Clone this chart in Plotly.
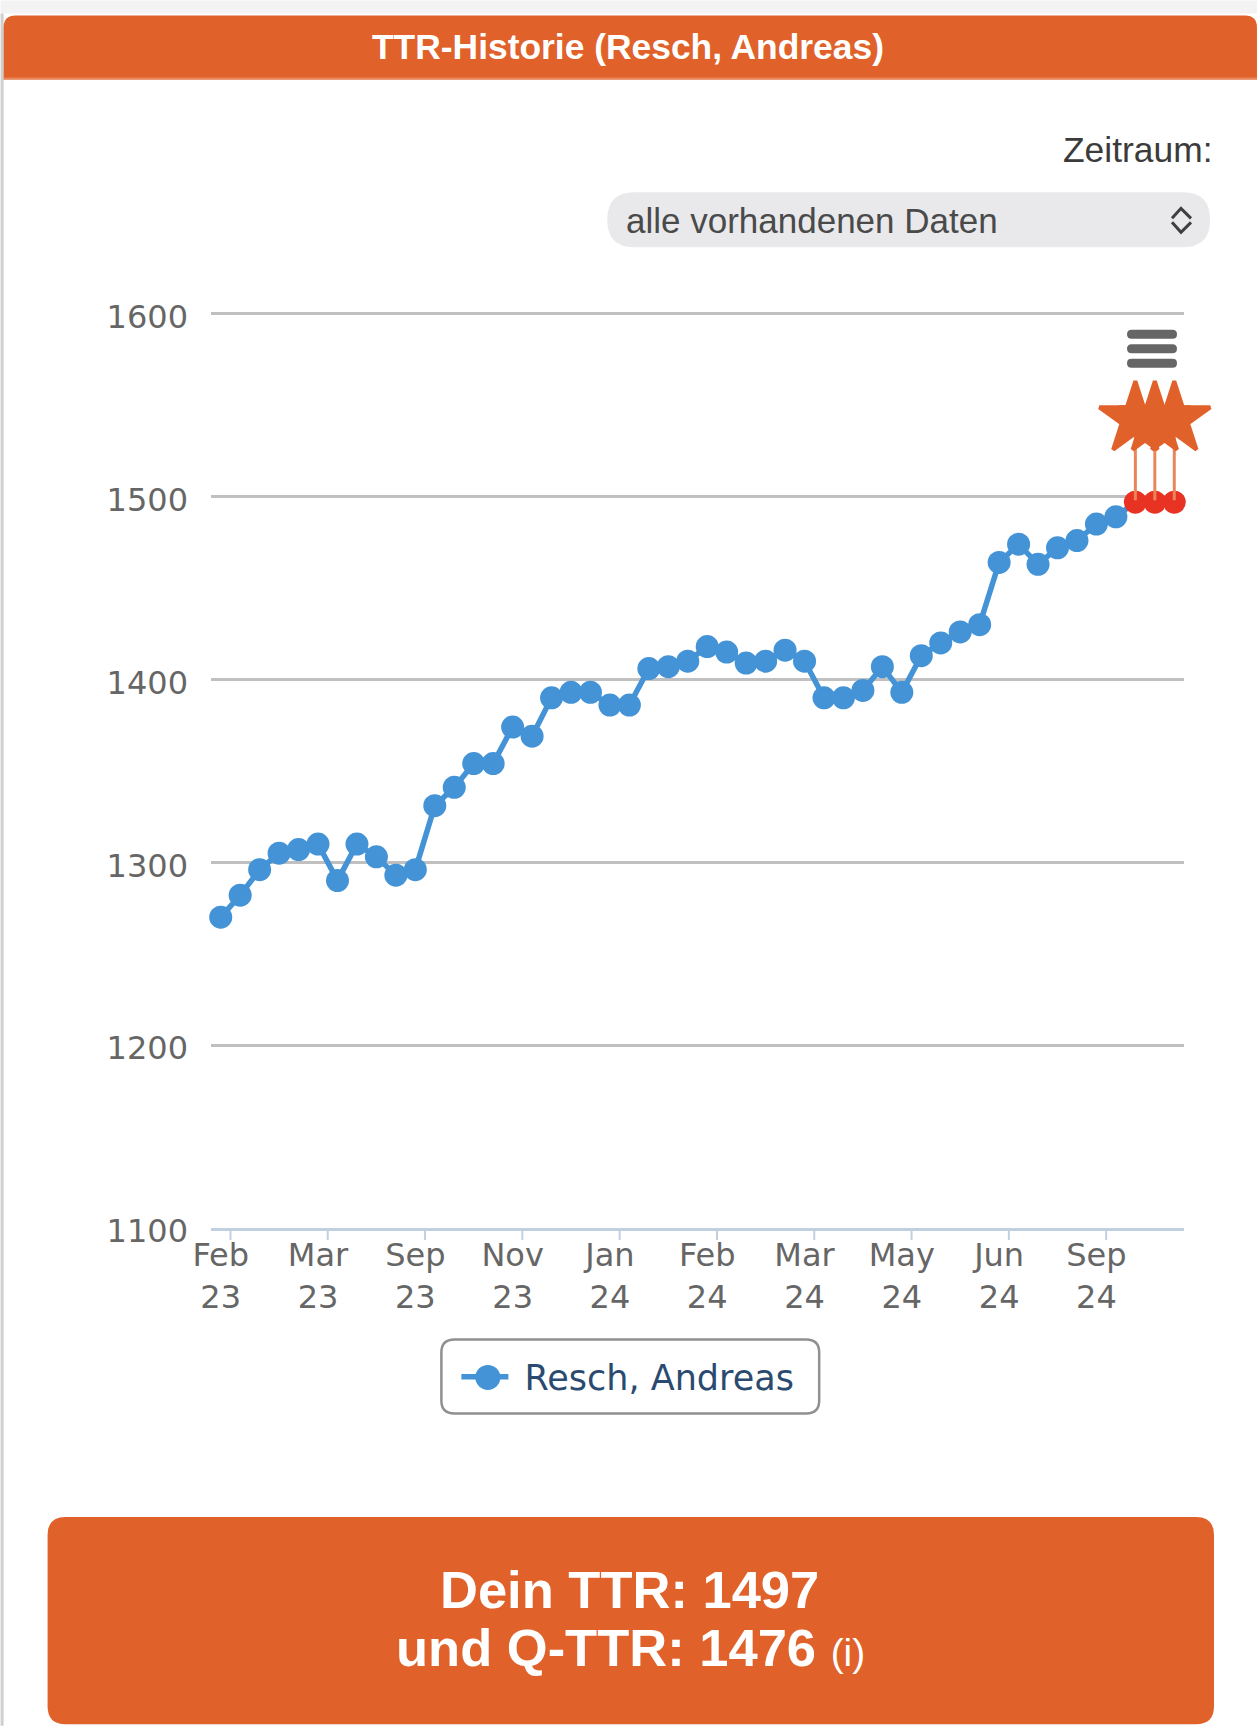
import plotly.graph_objects as go

W, H = 1257, 1726
PLOT_L, PLOT_R, PLOT_T, PLOT_B = 210.5, 1184, 311.67, 1228

# ---- data -------------------------------------------------------------
series_name = "Resch, Andreas"
ttr_values = [1270, 1282, 1296, 1305, 1307, 1310, 1290, 1310, 1303, 1293,
              1296, 1331, 1341, 1354, 1354, 1374, 1369, 1390, 1393, 1393,
              1386, 1386, 1406, 1407, 1410, 1418, 1415, 1409, 1410, 1416,
              1410, 1390, 1390, 1394, 1407, 1393, 1413, 1420, 1426, 1430,
              1464, 1474, 1463, 1472, 1476, 1485, 1489, 1497, 1497, 1497]
point_index = list(range(len(ttr_values)))
flag_index = [47, 48, 49]
flag_level = [1542.5, 1542.5, 1542.5]
flag_stem = [44.5, 44.5, 44.5]
label_index = [0, 5, 10, 15, 20, 25, 30, 35, 40, 45]
label_text = ["Feb<br>23", "Mar<br>23", "Sep<br>23", "Nov<br>23", "Jan<br>24",
              "Feb<br>24", "Mar<br>24", "May<br>24", "Jun<br>24", "Sep<br>24"]
tick_marks = [-0.6, 0.5, 5.5, 10.5, 15.5, 20.5, 25.5, 30.5, 35.5, 40.5, 45.5]
y_ticks = [1100, 1200, 1300, 1400, 1500, 1600]
title_text = "TTR-Historie (Resch, Andreas)"
period_label = "Zeitraum:"
period_value = "alle vorhandenen Daten"
ttr_line = "Dein TTR: 1497"
qttr_line = "und Q-TTR: 1476"

# ---- styles -----------------------------------------------------------
ORANGE = "#E0612A"
BLUE = "#4393D6"
RED = "#E83323"
SANS = "Liberation Sans"
CHART = "DejaVu Sans"


def px(x):
    return (x - PLOT_L) / (PLOT_R - PLOT_L)


def py(y):
    return (PLOT_B - y) / (PLOT_B - PLOT_T)


SX = PLOT_R - PLOT_L
SY = PLOT_B - PLOT_T


def rounded(x0, y0, x1, y1, r, top_only=False):
    a, b, c, d = px(x0), py(y0), px(x1), py(y1)
    rx, ry = r / SX, r / SY
    parts = [f"M{a},{b - ry}", f"Q{a},{b} {a + rx},{b}", f"L{c - rx},{b}", f"Q{c},{b} {c},{b - ry}"]
    if top_only:
        parts += [f"L{c},{d}", f"L{a},{d}", "Z"]
    else:
        parts += [f"L{c},{d + ry}", f"Q{c},{d} {c - rx},{d}", f"L{a + rx},{d}", f"Q{a},{d} {a},{d + ry}", "Z"]
    return " ".join(parts)


def box(path, fill, line=None, width=0, layer="below"):
    return dict(type="path", xref="paper", yref="paper", path=path, fillcolor=fill,
                line=dict(color=line or fill, width=width), layer=layer)


def rect(x0, y0, x1, y1, fill):
    return dict(type="rect", xref="paper", yref="paper", x0=px(x0), x1=px(x1), y0=py(y0), y1=py(y1),
                fillcolor=fill, line=dict(width=0), layer="below")


def text(x, y, s, size, color, anchor="center", family=SANS):
    return dict(xref="paper", yref="paper", x=px(x), y=py(y), text=s, showarrow=False, xanchor=anchor,
                yanchor="middle", font=dict(family=family, size=size, color=color))


def chevron(points):
    d = " ".join(("M" if i == 0 else "L") + f"{px(a)},{py(b)}" for i, (a, b) in enumerate(points))
    return dict(type="path", xref="paper", yref="paper", path=d, line=dict(color="#3F3F3F", width=3))


shapes = [
    rect(0, 0, W, 13, "#F3F3F3"),
    rect(0, 13, 3, H, "#CFCFCF"),
    box(rounded(3, 15, W, 79, 12, top_only=True), ORANGE),
    rect(3, 77, W, 79, "#E8875A"),
    box(rounded(607, 192, 1210, 247, 27), "#E9E9EB"),
    chevron([(1172, 218), (1181, 208), (1191, 218)]),
    chevron([(1172, 222), (1181, 232), (1191, 222)]),
    box(rounded(1127, 329.5, 1177, 338.5, 4.5), "#666666", layer="above"),
    box(rounded(1127, 344, 1177, 353, 4.5), "#666666", layer="above"),
    box(rounded(1127, 358.5, 1177, 367.5, 4.5), "#666666", layer="above"),
    box(rounded(441, 1339.5, 819, 1413.5, 13), "#FFFFFF", line="#909090", width=2.5),
    box(rounded(47, 1517, 1214, 1724.5, 18), ORANGE),
    dict(type="circle", xref="paper", yref="paper", x0=px(475), x1=px(500), y0=py(1365), y1=py(1390),
         fillcolor=BLUE, line=dict(width=0), layer="above"),
]
for t in tick_marks:
    shapes.append(dict(type="line", xref="x", yref="paper", ysizemode="pixel", yanchor=0,
                       x0=t, x1=t, y0=0, y1=-12, line=dict(color="#C0D0E0", width=2)))

annotations = [
    text(628, 47, f"<b>{title_text}</b>", 35.4, "#FFFFFF"),
    text(1214, 150, period_label, 35.4, "#3B3B3B", anchor="right"),
    text(624, 220, period_value, 35, "#4A4A4A", anchor="left"),
    text(629, 1590, f"<b>{ttr_line}</b>", 52.5, "#FFFFFF"),
    text(630, 1648, f"<b>{qttr_line}</b> <span style='font-size:39px'>(i)</span>", 52.5, "#FFFFFF"),
]

fig = go.Figure()
fig.add_trace(go.Scatter(
    x=point_index, y=ttr_values, name="\u00a0" + series_name, mode="lines+markers",
    line=dict(color=BLUE, width=5.5),
    marker=dict(size=23, color=[RED if i in flag_index else BLUE for i in point_index]),
    cliponaxis=False, hoverinfo="skip",
))
fig.add_trace(go.Scatter(
    x=flag_index, y=flag_level, mode="markers", showlegend=False,
    marker=dict(symbol="star", size=54, color=ORANGE, line=dict(width=4, color=ORANGE)),
    error_y=dict(type="data", symmetric=False, array=[0, 0, 0], arrayminus=flag_stem,
                 color="#E9855A", thickness=3, width=0),
    cliponaxis=False, hoverinfo="skip",
))

fig.update_layout(
    width=W, height=H, autosize=False,
    margin=dict(l=PLOT_L, r=W - PLOT_R, t=PLOT_T, b=H - PLOT_B, pad=0),
    paper_bgcolor="#FFFFFF", plot_bgcolor="rgba(0,0,0,0)",
    shapes=shapes, annotations=annotations,
    showlegend=True,
    legend=dict(x=px(456), y=py(1377), xanchor="left", yanchor="middle", bgcolor="rgba(0,0,0,0)",
                borderwidth=0, itemwidth=47, font=dict(family=CHART, size=35, color="#2B4A6F")),
    xaxis=dict(range=[-0.5, 49.5], tickmode="array", tickvals=label_index, ticktext=label_text,
               tickangle=0, ticks="", showgrid=False, zeroline=False, showline=True, linecolor="#C0D0E0",
               linewidth=3, ticklabelstandoff=-3, tickfont=dict(family=CHART, size=32, color="#666666")),
    yaxis=dict(range=[1100, 1601], tickmode="array", tickvals=y_ticks, showgrid=True, gridcolor="#C0C0C0",
               gridwidth=3, zeroline=False, showline=False, ticks="", ticklabelstandoff=22, ticklabelshift=3,
               tickfont=dict(family=CHART, size=32, color="#666666")),
)

fig.write_html("out.html", config=dict(displayModeBar=False),
               post_script="document.body.style.margin='0';document.body.style.overflow='hidden';")
